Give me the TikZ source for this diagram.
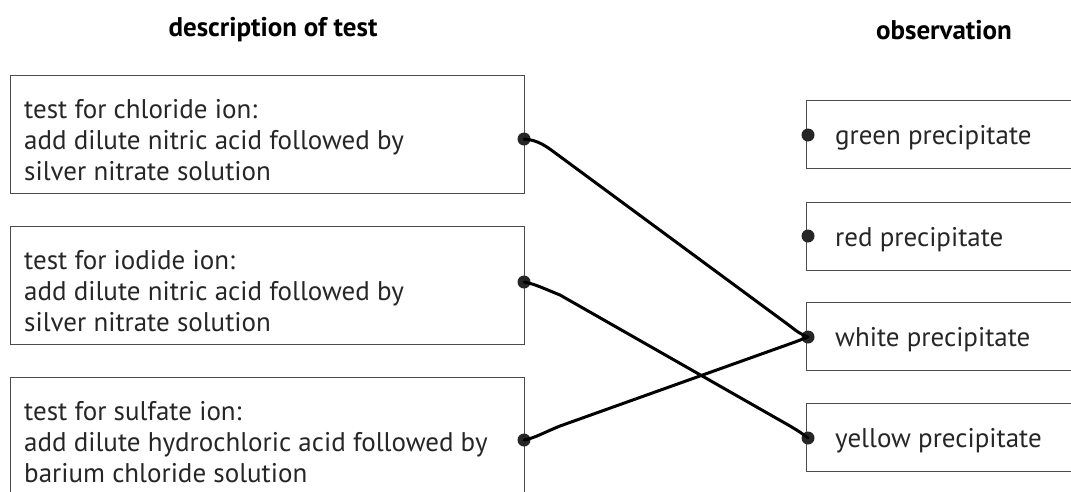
\documentclass[tikz,border=0pt]{standalone}
\usepackage{fontspec}
\setmainfont{PT Sans}
\begin{document}
\begin{tikzpicture}[x=1pt,y=-1pt,
  lbox/.style={draw=black!70, line width=1.4pt, anchor=north west, minimum width=514pt, minimum height=118pt, inner sep=0pt},
  rbox/.style={draw=black!70, line width=1.4pt, anchor=north west, minimum width=300pt, minimum height=68pt, inner sep=0pt},
  btext/.style={anchor=west, inner sep=0pt, align=left, font=\fontsize{27}{31}\selectfont, text=black!85},
  dotn/.style={circle, fill=black!85, inner sep=0pt, minimum size=13pt},
  conn/.style={line width=3pt, black, line cap=round},
  head/.style={font=\bfseries\fontsize{27}{30}\selectfont}]
\useasboundingbox (0,0) rectangle (1071,491);
\clip (0,0) rectangle (1071,491);
\node[head] (h1) at (273,30) {description of test};
\node[head] (h2) at (944,30) {observation};
\node[lbox] (b1) at (10,75) {};
\node[lbox] (b2) at (10,226) {};
\node[lbox] (b3) at (10,377) {};
\node[btext] (t1) at ([xshift=14pt,yshift=-5pt]b1.west) {test for chloride ion:\\add dilute nitric acid followed by\\silver nitrate solution};
\node[btext] (t2) at ([xshift=14pt,yshift=-5pt]b2.west) {test for iodide ion:\\add dilute nitric acid followed by\\silver nitrate solution};
\node[btext] (t3) at ([xshift=14pt,yshift=-5pt]b3.west) {test for sulfate ion:\\add dilute hydrochloric acid followed by\\barium chloride solution};
\node[rbox] (g) at (806,100) {};
\node[rbox] (r) at (806,202) {};
\node[rbox] (w) at (806,302) {};
\node[rbox] (y) at (806,403) {};
\node[btext] (tg) at ([xshift=29pt,yshift=-3pt]g.west) {green precipitate};
\node[btext] (tr) at ([xshift=29pt,yshift=-3pt]r.west) {red precipitate};
\node[btext] (tw) at ([xshift=29pt,yshift=-3pt]w.west) {white precipitate};
\node[btext] (ty) at ([xshift=29pt,yshift=-3pt]y.west) {yellow precipitate};
\node[dotn] (d1) at (524,139) {};
\node[dotn] (d2) at (524,282) {};
\node[dotn] (d3) at (524,440) {};
\node[dotn] (dg) at (808,135) {};
\node[dotn] (dr) at (808,236) {};
\node[dotn] (dw) at (808,337) {};
\node[dotn] (dy) at (808,438) {};
\draw[conn] (d1.center) .. controls (538,140) and (546,146) .. (558,155) -- (790,326) .. controls (799,333) .. (dw.center);
\draw[conn] (d2.center) .. controls (535,284) and (545,289) .. (560,295) -- (790,426) .. controls (800,432) .. (dy.center);
\draw[conn] (d3.center) .. controls (535,438) and (545,432) .. (560,426) -- (795,342) .. controls (802,339) .. (dw.center);
\end{tikzpicture}
\end{document}
